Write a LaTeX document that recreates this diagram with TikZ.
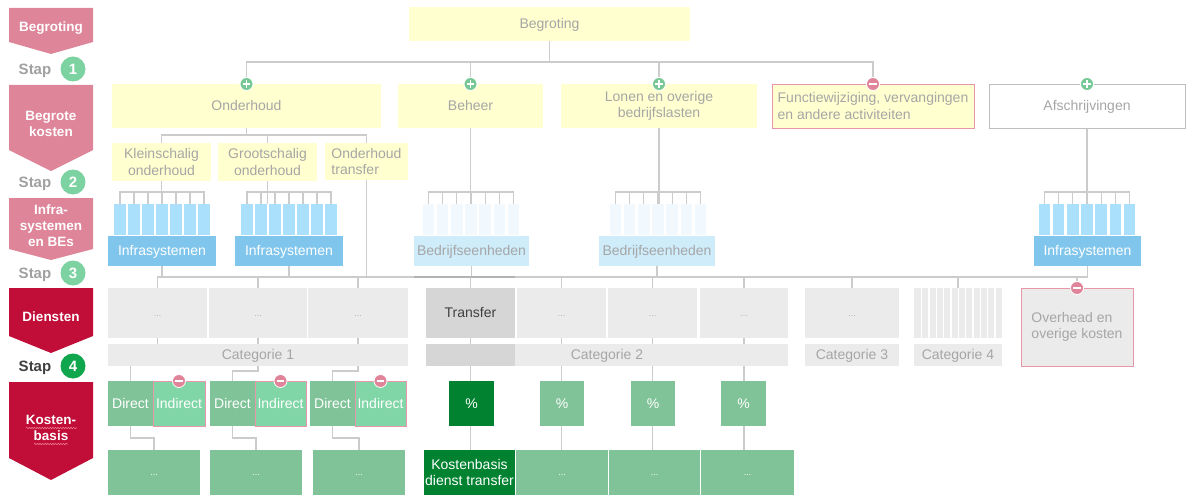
\documentclass[tikz,border=0pt]{standalone}
\usepackage{fontspec}
\setmainfont{Liberation Sans}
\usetikzlibrary{backgrounds,decorations.pathmorphing}

\definecolor{chevpink}{RGB}{222,133,153}
\definecolor{chevred}{RGB}{192,14,56}
\definecolor{wavyred}{RGB}{240,120,140}
\definecolor{stapgray}{RGB}{160,160,160}
\definecolor{stapdark}{RGB}{64,64,64}
\definecolor{stapgrn}{RGB}{124,210,160}
\definecolor{stapdkgrn}{RGB}{16,166,78}
\definecolor{boxyel}{RGB}{255,255,207}
\definecolor{txtgray}{RGB}{166,166,166}
\definecolor{dotgray}{RGB}{176,176,176}
\definecolor{lnk}{RGB}{204,204,204}
\definecolor{lnkdk}{RGB}{178,178,178}
\definecolor{barblue}{RGB}{170,224,252}
\definecolor{infblue}{RGB}{128,198,236}
\definecolor{barpale}{RGB}{242,249,254}
\definecolor{bedblue}{RGB}{206,236,250}
\definecolor{dgray}{RGB}{235,235,235}
\definecolor{dgraydk}{RGB}{214,214,214}
\definecolor{grnmid}{RGB}{128,195,152}
\definecolor{grnlight}{RGB}{128,214,166}
\definecolor{grndark}{RGB}{0,130,48}
\definecolor{minpink}{RGB}{224,132,154}
\definecolor{plusgrn}{RGB}{120,200,150}
\definecolor{pinkbrd}{RGB}{232,150,170}
\definecolor{afsbrd}{RGB}{190,190,190}

\newcommand{\txtf}{\fontsize{14}{16.6}\selectfont}
\newcommand{\chevf}{\fontsize{13.5}{16.1}\selectfont\bfseries}
\newcommand{\stapf}{\fontsize{15}{18}\selectfont\bfseries}
\newcommand{\dotf}{\fontsize{9}{10}\selectfont}
% struts with the line height of the font, so text sits like in the slide
\newcommand{\topstrut}{\rule{0pt}{0.905em}}
\newcommand{\botstrut}{\rule[-0.212em]{0pt}{0.212em}}

\tikzset{
  box/.style={inner sep=0pt, outer sep=0pt, align=center, font=\txtf,
    execute at begin node=\topstrut, execute at end node=\botstrut},
  mline/.style={execute at begin node={\let\botstrut\relax}},
  ybox/.style={box, fill=boxyel, text=txtgray, minimum height=44pt},
  sbox/.style={box, mline, fill=boxyel, text=txtgray, minimum height=38pt},
  barbl/.style={box, fill=barblue, minimum width=11.7pt, minimum height=31pt},
  barpl/.style={box, fill=barpale, minimum width=11.7pt, minimum height=31pt},
  infbox/.style={box, fill=infblue, text=white, minimum height=30pt},
  bedbox/.style={box, fill=bedblue, text=txtgray, minimum height=30pt},
  dbox/.style={box, fill=dgray, text=dotgray, font=\dotf, minimum height=50pt},
  catbar/.style={box, fill=dgray, text=txtgray, minimum height=22pt},
  dirbox/.style={box, fill=grnmid, text=white, minimum width=45pt, minimum height=45pt},
  indbox/.style={box, fill=grnlight, draw=pinkbrd, line width=0.8pt, text=white, minimum height=45pt},
  pctbox/.style={box, fill=grnmid, text=white, minimum width=44pt, minimum height=45pt},
  kbox/.style={box, fill=grnmid, text=white, minimum height=45pt},
  conn/.style={draw=lnk, line width=1.1pt},
  wavy/.style={draw=wavyred, line width=0.6pt, decorate,
    decoration={snake, segment length=2.6pt, amplitude=0.7pt}},
  pluscirc/.style={circle, fill=plusgrn, draw=white, line width=0.8pt, minimum size=13pt, inner sep=0pt,
    path picture={\draw[white, line width=1.8pt]
      ([xshift=-3.6pt]path picture bounding box.center) -- ([xshift=3.6pt]path picture bounding box.center)
      ([yshift=-3.6pt]path picture bounding box.center) -- ([yshift=3.6pt]path picture bounding box.center);}},
  mincirc/.style={circle, fill=minpink, draw=white, line width=0.8pt, minimum size=13pt, inner sep=0pt,
    path picture={\draw[white, line width=1.8pt]
      ([xshift=-3.8pt]path picture bounding box.center) -- ([xshift=3.8pt]path picture bounding box.center);}},
  chevtxt/.style={text=white, font=\chevf, align=center, inner sep=0pt,
    execute at begin node=\topstrut, execute at end node=\botstrut},
  staptxt/.style={text=stapgray, font=\stapf, inner sep=0pt,
    execute at begin node=\topstrut, execute at end node=\botstrut},
  stapnum/.style={circle, fill=stapgrn, text=white, font=\stapf, minimum size=25pt, inner sep=0pt,
    execute at begin node=\topstrut, execute at end node=\botstrut},
}

\begin{document}
\begin{tikzpicture}[x=1pt,y=1pt,yscale=-1,xscale=1]
\useasboundingbox (0,0) rectangle (1189,495);

% left column: steps
\fill[chevpink] (9,8) -- (93,8) -- (93,42) -- (51,54) -- (9,42) -- cycle;
\fill[chevpink] (9,85) -- (93,85) -- (93,150) -- (51,171) -- (9,150) -- cycle;
\fill[chevpink] (9,198) -- (93,198) -- (93,249) -- (51,260) -- (9,249) -- cycle;
\fill[chevred] (9,288) -- (93,288) -- (93,336) -- (51,353) -- (9,336) -- cycle;
\fill[chevred] (9,382) -- (93,382) -- (93,458) -- (51,480) -- (9,458) -- cycle;

\node[chevtxt] (lbeg) at (51,27) {Begroting};
\node[chevtxt, mline] (lkos) at (51,123.5) {Begrote\\kosten};
\node[chevtxt, mline] (linf) at (51,226) {Infra-\\systemen\\en BEs};
\node[chevtxt] (ldie) at (51,317) {Diensten};
\node[chevtxt, mline] (lkb) at (51,427.5) {Kosten-\\basis};
\draw[wavy] (26,428) -- (77,428);
\draw[wavy] (34,444) -- (68,444);

\node[staptxt] (s1) at (35,69) {Stap};
\node[stapnum] (n1) at (73,69) {1};
\node[staptxt] (s2) at (35,182) {Stap};
\node[stapnum] (n2) at (73,182) {2};
\node[staptxt] (s3) at (35,273) {Stap};
\node[stapnum] (n3) at (73,273) {3};
\node[staptxt, text=stapdark] (s4) at (35,366) {Stap};
\node[stapnum, fill=stapdkgrn] (n4) at (73,366) {4};

% begroting and begrote kosten
\node[ybox, minimum width=281pt, minimum height=34pt] (beg) at (549.5,24) {Begroting};
\node[ybox, minimum width=269pt] (ond) at (246.5,106) {Onderhoud};
\node[ybox, minimum width=145pt] (beh) at (470.5,106) {Beheer};
\node[ybox, mline, minimum width=196pt] (lon) at (659,106) {Lonen en overige\\bedrijfslasten};
\node[ybox, mline, minimum width=202pt, draw=pinkbrd, line width=0.8pt, align=left] (fun) at (873,106)
  {Functiewijziging, vervangingen\\en andere activiteiten};
\node[ybox, minimum width=196pt, fill=white, draw=afsbrd, line width=0.8pt] (afs) at (1087,106) {Afschrijvingen};

\node[sbox, minimum width=99pt] (kl) at (161.5,162) {Kleinschalig\\onderhoud};
\node[sbox, minimum width=99pt] (gr) at (267.5,162) {Grootschalig\\onderhoud};
\node[sbox, minimum width=83pt, minimum height=37pt, align=left] (ot) at (366.5,161.5) {Onderhoud\\transfer};

% infrasystemen en bedrijfseenheden
\foreach \i in {1,...,7} {
  \node[barbl] (ka\i) at ({162+(\i-4)*14},219.5) {};
  \node[barbl] (ga\i) at ({289+(\i-4)*14},219.5) {};
  \node[barpl] (ba\i) at ({471+(\i-4)*14.2},219.5) {};
  \node[barpl] (bb\i) at ({658+(\i-4)*14.2},219.5) {};
  \node[barbl] (aa\i) at ({1087+(\i-4)*14.2},219.5) {};
}
\node[infbox, minimum width=108pt] (inf1) at (162,251) {Infrasystemen};
\node[infbox, minimum width=108pt] (inf2) at (289,251) {Infrasystemen};
\node[bedbox, minimum width=115pt] (bed1) at (471.5,251) {Bedrijfseenheden};
\node[bedbox, minimum width=116pt] (bed2) at (657,251) {Bedrijfseenheden};
\node[infbox, minimum width=107pt] (inf3) at (1087.5,251) {Infrasystemen};

% diensten
\node[dbox, minimum width=99pt] (d1) at (157.5,313) {...};
\node[dbox, minimum width=98pt] (d2) at (258,313) {...};
\node[dbox, minimum width=100pt] (d3) at (358,313) {...};
\node[dbox, minimum width=89pt, fill=dgraydk, text=stapdark, font=\txtf] (tr) at (470.5,313) {Transfer};
\node[dbox, minimum width=89pt] (d5) at (561.5,313) {...};
\node[dbox, minimum width=89pt] (d6) at (652.5,313) {...};
\node[dbox, minimum width=88pt] (d7) at (744,313) {...};
\node[dbox, minimum width=94pt] (d8) at (852,313) {...};
\node[dbox, minimum width=88pt] (d9) at (958,313) {};
\foreach \k in {0,...,10}
  \draw[white, line width=1.4pt] ({921.7+\k*7.33},288) -- ++(0,50);
\node[box, mline, fill=dgray, draw=pinkbrd, line width=0.8pt, text=txtgray, align=left,
  minimum width=112pt, minimum height=78pt] (ovh) at (1077,327) {Overhead en\\overige kosten};

\node[catbar, minimum width=300pt] (c1) at (258,355) {Categorie 1};
\node[catbar, minimum width=362pt] (c2) at (607,355) {Categorie 2};
\fill[dgraydk] (c2.north west) rectangle (c2.south west -| tr.east);
\node[catbar, minimum width=94pt] (c3) at (852,355) {Categorie 3};
\node[catbar, minimum width=88pt] (c4) at (958,355) {Categorie 4};

% kostenbasis
\node[dirbox] (dir1) at (130.5,403.5) {Direct};
\node[indbox, minimum width=52pt] (ind1) at (179,403.5) {Indirect};
\node[dirbox] (dir2) at (232.5,403.5) {Direct};
\node[indbox, minimum width=51pt] (ind2) at (280.5,403.5) {Indirect};
\node[dirbox] (dir3) at (332.5,403.5) {Direct};
\node[indbox, minimum width=51pt] (ind3) at (380.5,403.5) {Indirect};
\node[pctbox, fill=grndark, minimum width=45pt] (pc1) at (471.5,403.5) {\%};
\node[pctbox] (pc2) at (562,403.5) {\%};
\node[pctbox] (pc3) at (653,403.5) {\%};
\node[pctbox, minimum width=45pt] (pc4) at (743.5,403.5) {\%};

\node[kbox, minimum width=92pt, font=\dotf] (kb1) at (154,472.5) {...};
\node[kbox, minimum width=92pt, font=\dotf] (kb2) at (256,472.5) {...};
\node[kbox, minimum width=92pt, font=\dotf] (kb3) at (359,472.5) {...};
\node[kbox, mline, minimum width=91pt, fill=grndark] (kt) at (469.5,472.5) {Kostenbasis\\dienst transfer};
\node[kbox, minimum width=92pt, font=\dotf] (kb5) at (562,472.5) {...};
\node[kbox, minimum width=91pt, font=\dotf] (kb6) at (654.5,472.5) {...};
\node[kbox, minimum width=93pt, font=\dotf] (kb7) at (747.5,472.5) {...};

% plus and minus signs
\node[pluscirc] (pond) at (ond.north) {};
\node[pluscirc] (pbeh) at (beh.north) {};
\node[pluscirc] (plon) at (lon.north) {};
\node[mincirc] (mfun) at (fun.north) {};
\node[pluscirc] (pafs) at (afs.north) {};
\node[mincirc] (movh) at (ovh.north) {};
\node[mincirc] (mind1) at (ind1.north) {};
\node[mincirc] (mind2) at (ind2.north) {};
\node[mincirc] (mind3) at (ind3.north) {};

\begin{scope}[on background layer]
% tree lines
\draw[conn] (beg.south) -- ++(0,21);
\draw[conn] (ond.north) -- ++(0,-22) -| (fun.north);
\draw[conn] (beh.north) -- ++(0,-22);
\draw[conn] (lon.north) -- ++(0,-22);
\draw[conn] (ond.south) -- ++(0,7);
\draw[conn] (kl.north) -- ++(0,-8) -| (ot.north);
\draw[conn] (gr.north) -- ++(0,-8);

% combs
\draw[conn] (kl.south) -- (kl.south |- ka4.north);
\draw[conn] (gr.south) -- (gr.south |- ga4.north);
\draw[conn] (beh.south) -- (beh.south |- ba4.north);
\draw[conn] (lon.south) -- (lon.south |- bb4.north);
\draw[conn] (afs.south) -- (afs.south |- aa4.north);
\draw[conn] (ka1.north) -- ++(0,-12) -| (ka7.north);
\draw[conn] (ga1.north) -- ++(0,-12) -| (ga7.north);
\draw[conn] (ba1.north) -- ++(0,-12) -| (ba7.north);
\draw[conn] (bb1.north) -- ++(0,-12) -| (bb7.north);
\draw[conn] (aa1.north) -- ++(0,-12) -| (aa7.north);
\foreach \i in {2,...,6} {
  \draw[conn] (ka\i.north) -- ++(0,-12);
  \draw[conn] (ga\i.north) -- ++(0,-12);
  \draw[conn] (ba\i.north) -- ++(0,-12);
  \draw[conn] (bb\i.north) -- ++(0,-12);
  \draw[conn] (aa\i.north) -- ++(0,-12);
}

% bus to diensten
\coordinate (busb) at (157.5,277);
\draw[conn] (d1.north) -- (busb) -| (inf3.south);
\draw[conn] (inf1.south) -- (inf1.south |- busb);
\draw[conn] (inf2.south) -- (inf2.south |- busb);
\draw[conn] (ot.south) -- (ot.south |- busb);
\draw[conn] (bed1.south) -- (bed1.south |- busb);
\draw[conn] (bed2.south) -- (bed2.south |- busb);
\draw[conn, draw=lnkdk] (bed1.south west |- busb) -- (tr.east |- busb);
\draw[conn] (d2.north) -- (d2.north |- busb);
\draw[conn] (d3.north) -- (d3.north |- busb);
\draw[conn] (d8.north) -- (d8.north |- busb);
\draw[conn] (d9.north) -- (d9.north |- busb);
\draw[conn] (movh) -- (movh |- busb);

% categorie 1
\draw[conn] (d1.south) -- (d1.south |- c1.north);
\draw[conn] (dir1.north |- c1.south) -- (dir1.north);
\draw[conn] (d2.south) -- ++(0,33) -| (dir2.north);
\draw[conn] (d3.south) -- ++(0,33) -| (dir3.north);
\draw[conn] (dir1.south) -- ++(0,12) -| (kb1.north);
\draw[conn] (dir2.south) -- ++(0,12) -| (kb2.north);
\draw[conn] (dir3.south) -- ++(0,12) -| (kb3.north);

% categorie 2
\draw[conn] (tr.north |- busb) -- (tr.north |- kt.north);
\draw[conn] (d5.north |- busb) -- (d5.north |- kb5.north);
\draw[conn] (d6.north |- busb) -- (d6.north |- kb6.north);
\draw[conn] (d7.north |- busb) -- (d7.north |- kb7.north);
\end{scope}

\end{tikzpicture}
\end{document}
